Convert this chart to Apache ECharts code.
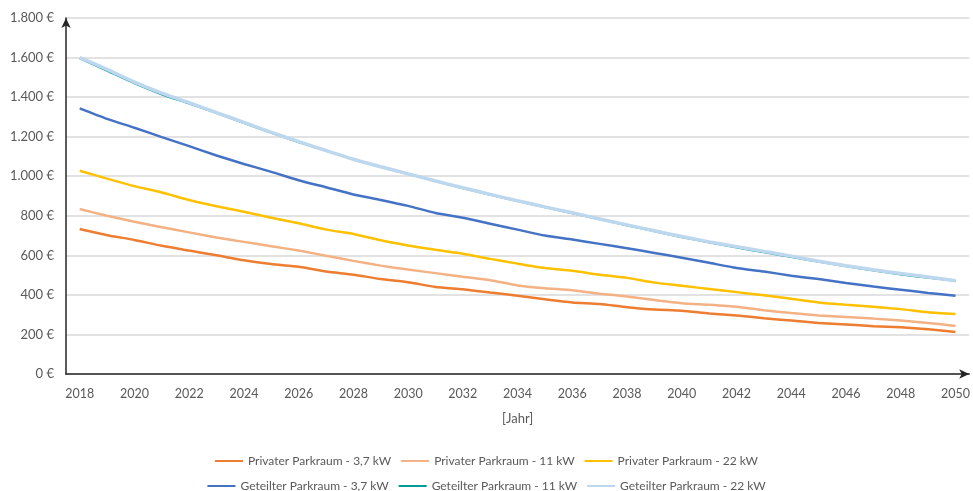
<!DOCTYPE html>
<html>
<head>
<meta charset="utf-8">
<script src="https://cdn.jsdelivr.net/npm/echarts@6/dist/echarts.min.js"></script>
<style>
  html, body { margin: 0; padding: 0; background: #fff; }
  #chart { width: 973px; height: 491px; }
</style>
</head>
<body>
<div id="chart"></div>
<script>
// Jahre 2018 - 2050
const years = [];
for (let y = 2018; y <= 2050; y++) years.push(String(y));

// Kosten in €
const privat37 = [733, 702, 678, 648, 624, 600, 575, 556, 542, 518, 502, 480, 464, 440, 428, 412, 396, 378, 362, 354, 338, 326, 320, 306, 296, 282, 270, 258, 250, 242, 236, 226, 212];
const privat11 = [834, 800, 770, 742, 716, 690, 668, 646, 624, 598, 572, 548, 528, 510, 492, 474, 448, 434, 424, 406, 392, 374, 358, 350, 340, 322, 308, 296, 288, 280, 270, 258, 243];
const privat22 = [1028, 988, 950, 918, 880, 848, 820, 790, 762, 730, 708, 676, 650, 628, 608, 582, 558, 536, 522, 502, 486, 462, 446, 430, 414, 398, 380, 362, 350, 340, 328, 312, 303];
const geteilt37 = [1343, 1290, 1245, 1198, 1152, 1105, 1062, 1022, 980, 944, 908, 880, 850, 814, 790, 760, 730, 700, 680, 658, 636, 612, 588, 562, 536, 518, 497, 480, 460, 442, 426, 410, 396];
const geteilt11 = [1595, 1532, 1468, 1412, 1366, 1318, 1268, 1218, 1170, 1128, 1084, 1045, 1010, 974, 938, 905, 873, 842, 812, 781, 750, 720, 690, 664, 638, 614, 590, 566, 543, 522, 502, 485, 470];
const geteilt22 = [1600, 1540, 1476, 1420, 1372, 1322, 1272, 1222, 1175, 1130, 1086, 1048, 1012, 976, 942, 908, 876, 845, 815, 784, 754, 724, 695, 668, 644, 620, 596, 570, 547, 527, 508, 490, 472];

const names = [
  'Privater Parkraum - 3,7 kW',
  'Privater Parkraum - 11 kW',
  'Privater Parkraum - 22 kW',
  'Geteilter Parkraum - 3,7 kW',
  'Geteilter Parkraum - 11 kW',
  'Geteilter Parkraum - 22 kW'
];
const colors = ['#ED7D31', '#F4B183', '#FFC000', '#4472C4', '#009B95', '#BDD7EE'];
const seriesData = [privat37, privat11, privat22, geteilt37, geteilt11, geteilt22];
const widths = [2.5, 2.5, 2.5, 2.5, 1.5, 3.5];

const font = 'Lato, "Open Sans", sans-serif';
const textColor = '#595959';

function euro(v) {
  return String(v).replace(/\B(?=(\d{3})+(?!\d))/g, '.') + ' €';
}

let chart = echarts.init(document.getElementById('chart'));
let legendBase = {
  left: 'center',
  itemWidth: 28,
  itemHeight: 10,
  itemGap: 10,
  icon: 'path://M0,4 L28,4 L28,6 L0,6 Z',
  textStyle: { color: textColor, fontSize: 12, fontFamily: font },
};
let option = {
  animation: false,
  color: colors,
  grid: { left: 66, right: 2, top: 18, bottom: 117 },
  legend: [
    Object.assign({}, legendBase, { top: 450, data: names.slice(0, 3) }),
    Object.assign({}, legendBase, { top: 475, data: names.slice(3) }),
  ],
  xAxis: {
    type: 'category',
    data: years,
    boundaryGap: true,
    name: '[Jahr]',
    nameLocation: 'middle',
    nameGap: 38,
    nameTextStyle: { color: textColor, fontSize: 13, fontFamily: font },
    axisLine: {
      lineStyle: { color: '#262626', width: 1.5 },
      symbol: ['none', 'arrow'],
      symbolSize: [7, 10],
    },
    axisTick: { show: false },
    axisLabel: { interval: 1, color: textColor, fontSize: 12.5, fontFamily: font, margin: 13 },
  },
  yAxis: {
    type: 'value',
    min: 0,
    max: 1800,
    interval: 200,
    axisLine: {
      show: true,
      lineStyle: { color: '#262626', width: 1.5 },
      symbol: ['none', 'arrow'],
      symbolSize: [7, 10],
    },
    axisTick: { show: false },
    axisLabel: { color: textColor, fontSize: 13, fontFamily: font, margin: 12, formatter: euro },
    splitLine: { lineStyle: { color: '#D9D9D9', width: 1.5 } },
  },
  series: names.map((n, i) => ({
    name: n,
    type: 'line',
    data: seriesData[i],
    symbol: 'none',
    smooth: 0.2,
    lineStyle: { width: widths[i], color: colors[i] },
  })),
};
chart.setOption(option);
</script>
</body>
</html>
